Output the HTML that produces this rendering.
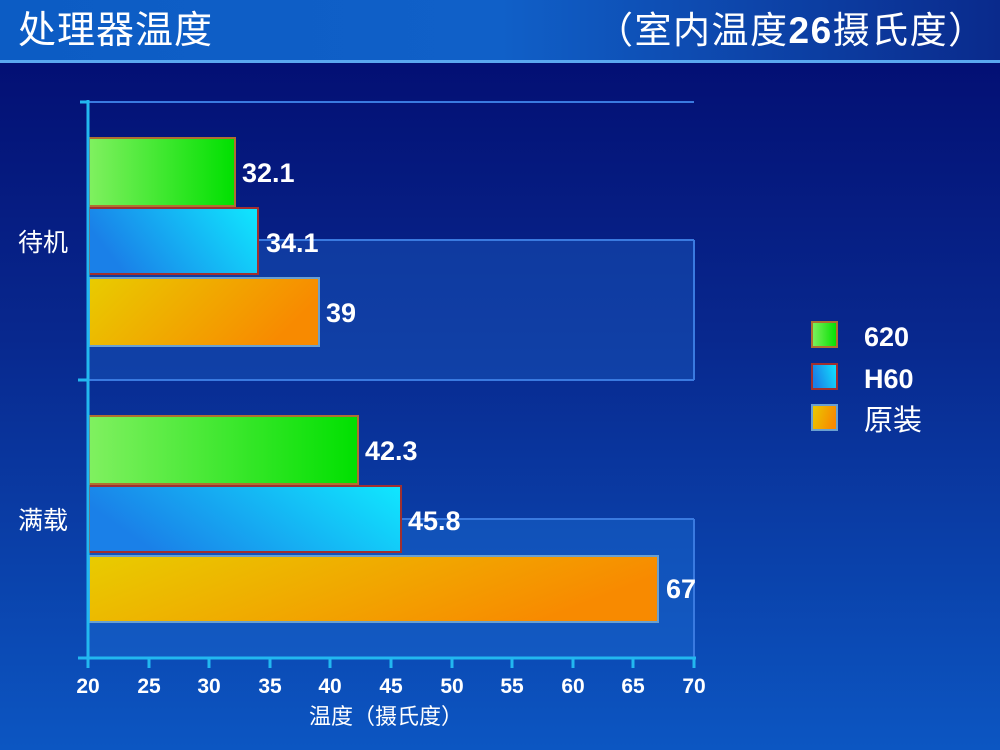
<!DOCTYPE html>
<html><head><meta charset="utf-8"><style>
html,body{margin:0;padding:0;width:1000px;height:750px;overflow:hidden}
svg{display:block}
text{font-family:"Liberation Sans","Noto Sans CJK SC",sans-serif;fill:#fff}
</style></head><body>
<svg width="1000" height="750" viewBox="0 0 1000 750" xmlns="http://www.w3.org/2000/svg">
<defs>
<linearGradient id="top" x1="0" y1="0" x2="1" y2="0"><stop offset="0" stop-color="#0c5cc4"/><stop offset="0.5" stop-color="#1060c8"/><stop offset="1" stop-color="#0a2a8c"/></linearGradient>
<linearGradient id="bg" x1="0" y1="0" x2="0" y2="1"><stop offset="0" stop-color="#020a6e"/><stop offset="0.45" stop-color="#08288e"/><stop offset="1" stop-color="#0c56c2"/></linearGradient>
<linearGradient id="g" x1="0" y1="0" x2="1" y2="0"><stop offset="0" stop-color="#80f060"/><stop offset="1" stop-color="#00e000"/></linearGradient>
<linearGradient id="b" x1="0" y1="0.3" x2="1" y2="0"><stop offset="0" stop-color="#1a80e8"/><stop offset="1" stop-color="#10e8ff"/></linearGradient>
<linearGradient id="o" x1="0" y1="0" x2="1" y2="0.3"><stop offset="0" stop-color="#e8cc00"/><stop offset="1" stop-color="#f88a00"/></linearGradient>
</defs>
<rect width="1000" height="750" fill="url(#bg)"/>
<rect width="1000" height="60" fill="url(#top)"/>
<rect y="60" width="1000" height="3" fill="#5aa8f0"/>
<text x="18" y="43" font-size="38" letter-spacing="1">处理器温度</text>
<text x="596" y="43" font-size="37" letter-spacing="1.5">（室内温度<tspan font-weight="bold">26</tspan>摄氏度）</text>
<rect x="88" y="240" width="606" height="140" fill="#1a5cc0" opacity="0.45"/>
<rect x="88" y="519" width="606" height="139" fill="#1a6ad0" opacity="0.45"/>
<g stroke="#3a7ae0" stroke-width="2">
<line x1="88" y1="102" x2="694" y2="102"/>
<line x1="88" y1="240" x2="694" y2="240"/>
<line x1="88" y1="380" x2="694" y2="380"/>
<line x1="88" y1="519" x2="694" y2="519"/>
<line x1="694" y1="240" x2="694" y2="380"/>
<line x1="694" y1="519" x2="694" y2="658"/>
</g>
<g stroke-width="2">
<rect x="89" y="138" width="146" height="68" fill="url(#g)" stroke="#b07030"/>
<rect x="89" y="208" width="169" height="66" fill="url(#b)" stroke="#a03030"/>
<rect x="89" y="278" width="230" height="68" fill="url(#o)" stroke="#6aa0d0"/>
<rect x="89" y="416" width="269" height="68" fill="url(#g)" stroke="#b07030"/>
<rect x="89" y="486" width="312" height="66" fill="url(#b)" stroke="#a03030"/>
<rect x="89" y="556" width="569" height="66" fill="url(#o)" stroke="#6aa0d0"/>
</g>
<g font-size="27" font-weight="bold">
<text x="242" y="182">32.1</text>
<text x="266" y="252">34.1</text>
<text x="326" y="322">39</text>
<text x="365" y="460">42.3</text>
<text x="408" y="530">45.8</text>
<text x="666" y="598">67</text>
</g>
<g stroke="#22b8f0" stroke-width="3">
<line x1="88" y1="100" x2="88" y2="660"/>
<line x1="80" y1="102" x2="88" y2="102"/>
<line x1="78" y1="380" x2="88" y2="380"/>
<line x1="78" y1="658" x2="696" y2="658"/>
<line x1="88" y1="658" x2="88" y2="668"/><line x1="149" y1="658" x2="149" y2="668"/><line x1="209" y1="658" x2="209" y2="668"/><line x1="270" y1="658" x2="270" y2="668"/><line x1="330" y1="658" x2="330" y2="668"/><line x1="391" y1="658" x2="391" y2="668"/><line x1="452" y1="658" x2="452" y2="668"/><line x1="512" y1="658" x2="512" y2="668"/><line x1="573" y1="658" x2="573" y2="668"/><line x1="633" y1="658" x2="633" y2="668"/><line x1="694" y1="658" x2="694" y2="668"/>
</g>
<g font-size="21" font-weight="bold" text-anchor="middle">
<text x="88" y="693">20</text><text x="149" y="693">25</text><text x="209" y="693">30</text><text x="270" y="693">35</text><text x="330" y="693">40</text><text x="391" y="693">45</text><text x="452" y="693">50</text><text x="512" y="693">55</text><text x="573" y="693">60</text><text x="633" y="693">65</text><text x="694" y="693">70</text>
</g>
<text x="386" y="724" font-size="22" text-anchor="middle">温度（摄氏度）</text>
<text x="18" y="251" font-size="25">待机</text>
<text x="18" y="529" font-size="25">满载</text>
<rect x="812" y="322" width="25" height="25" fill="url(#g)" stroke="#b07030" stroke-width="2"/>
<rect x="812" y="364" width="25" height="25" fill="url(#b)" stroke="#a03030" stroke-width="2"/>
<rect x="812" y="405" width="25" height="25" fill="url(#o)" stroke="#6aa0d0" stroke-width="2"/>
<g font-size="27" font-weight="bold">
<text x="864" y="346">620</text>
<text x="864" y="388">H60</text>
</g>
<text x="864" y="430" font-size="29">原装</text>
</svg>
</body></html>
